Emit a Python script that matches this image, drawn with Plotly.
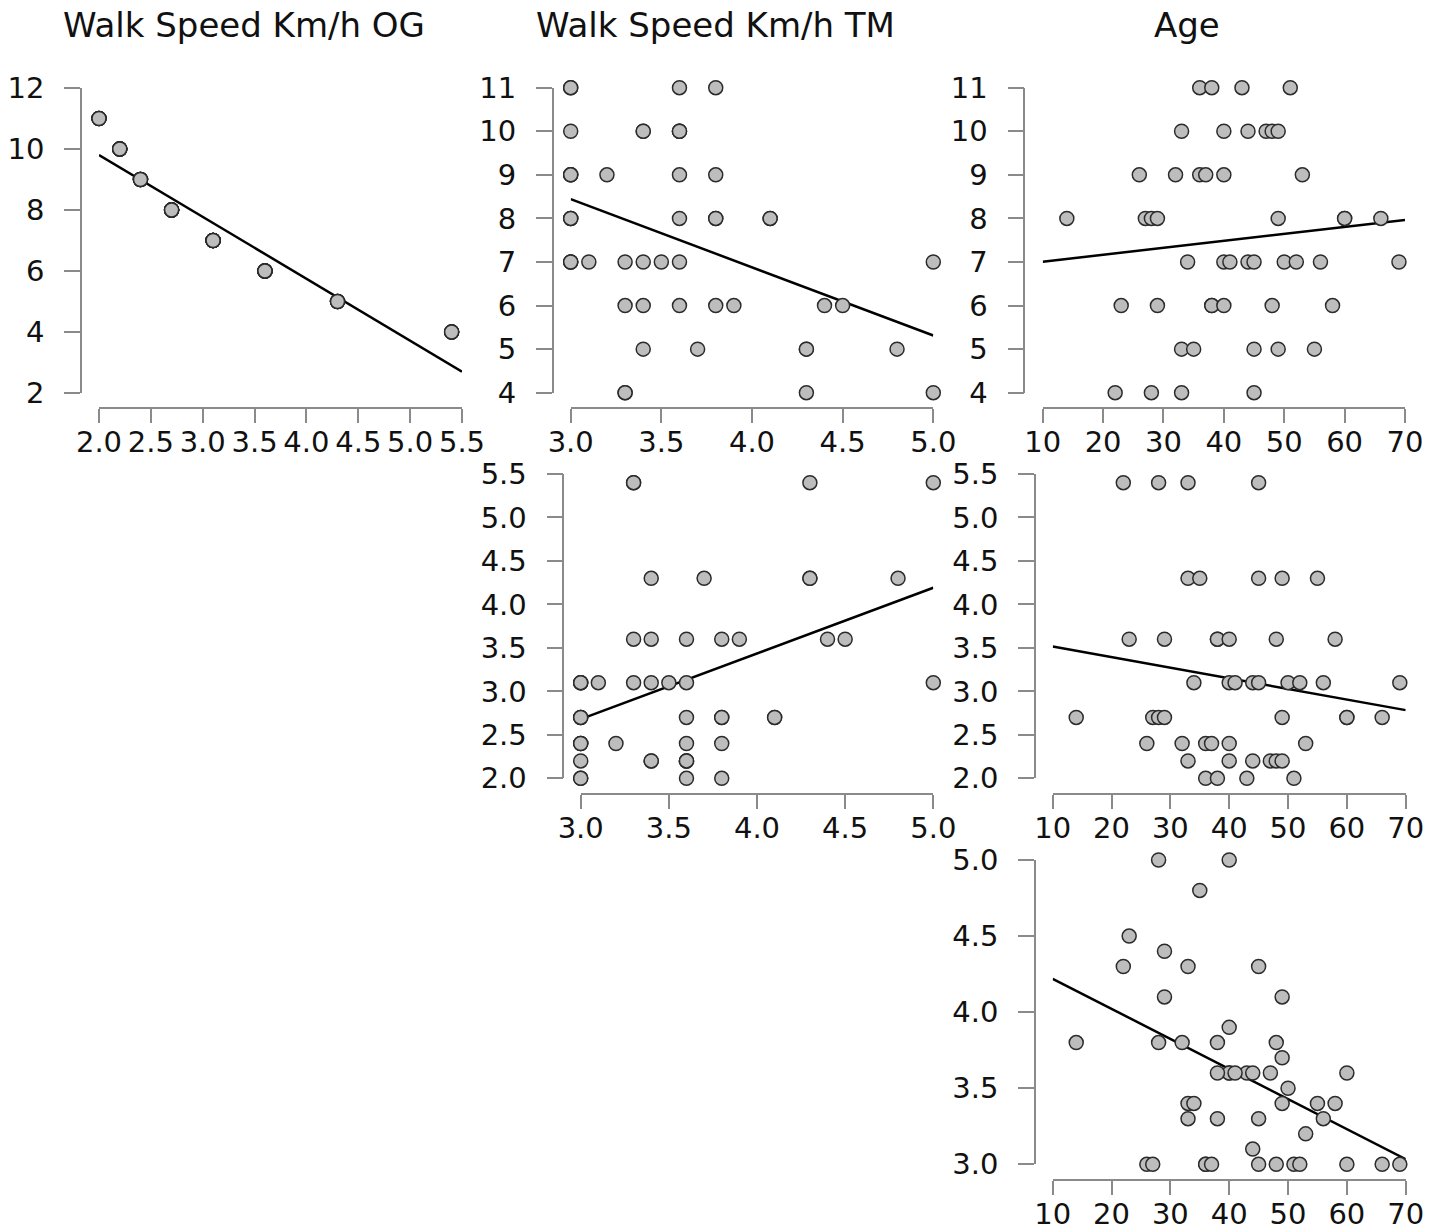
import numpy as np
import plotly.graph_objects as go

# ---------------- data (one entry per participant) ----------------
score = [11, 11, 11, 11,
         10, 10, 10, 10, 10, 10,
         9, 9, 9, 9, 9, 9,
         8, 8, 8, 8, 8, 8, 8, 8,
         7, 7, 7, 7, 7, 7, 7, 7, 7,
         6, 6, 6, 6, 6, 6, 6,
         5, 5, 5, 5, 5,
         4, 4, 4, 4]
og_speed = [2.0, 2.0, 2.0, 2.0,
            2.2, 2.2, 2.2, 2.2, 2.2, 2.2,
            2.4, 2.4, 2.4, 2.4, 2.4, 2.4,
            2.7, 2.7, 2.7, 2.7, 2.7, 2.7, 2.7, 2.7,
            3.1, 3.1, 3.1, 3.1, 3.1, 3.1, 3.1, 3.1, 3.1,
            3.6, 3.6, 3.6, 3.6, 3.6, 3.6, 3.6,
            4.3, 4.3, 4.3, 4.3, 4.3,
            5.4, 5.4, 5.4, 5.4]
tm_speed = [3.0, 3.8, 3.6, 3.0,
            3.4, 3.6, 3.6, 3.6, 3.0, 3.4,
            3.0, 3.8, 3.0, 3.0, 3.6, 3.2,
            3.8, 3.0, 3.8, 4.1, 4.1, 3.0, 3.6, 3.0,
            3.4, 5.0, 3.6, 3.1, 3.0, 3.5, 3.0, 3.3, 3.0,
            4.5, 4.4, 3.3, 3.6, 3.9, 3.8, 3.4,
            4.3, 4.8, 4.3, 3.7, 3.4,
            4.3, 5.0, 3.3, 3.3]
age = [36, 38, 43, 51,
       33, 40, 44, 47, 48, 49,
       26, 32, 36, 37, 40, 53,
       14, 27, 28, 29, 49, 60, 60, 66,
       34, 40, 41, 44, 45, 50, 52, 56, 69,
       23, 29, 38, 38, 40, 48, 58,
       33, 35, 45, 49, 55,
       22, 28, 33, 45]

# tick values
og_x_ticks = [2.0, 2.5, 3.0, 3.5, 4.0, 4.5, 5.0, 5.5]
score_y_ticks_first = [2, 4, 6, 8, 10, 12]
score_y_ticks = [4, 5, 6, 7, 8, 9, 10, 11]
tm_x_ticks = [3.0, 3.5, 4.0, 4.5, 5.0]
og_y_ticks = [2.0, 2.5, 3.0, 3.5, 4.0, 4.5, 5.0, 5.5]
age_x_ticks = [10, 20, 30, 40, 50, 60, 70]
tm_y_ticks = [3.0, 3.5, 4.0, 4.5, 5.0]

column_titles = ["Walk Speed Km/h OG", "Walk Speed Km/h TM", "Age"]

# ---------------- layout helpers ----------------
W, H = 1440, 1230
FONT = "DejaVu Sans"
AXIS_COLOR = "#8a8a8a"
TICK_SIZE = 29
TITLE_SIZE = 34


def fx(p):
    return p / W


def fy(p):
    return 1 - p / H


panels = [
    dict(x=og_speed, y=score, xt=og_x_ticks, yt=score_y_ticks_first, xf=".1f", yf="d",
         xpix=(99, 462), ypix=(393, 88), yline=81, xline=408),
    dict(x=tm_speed, y=score, xt=tm_x_ticks, yt=score_y_ticks, xf=".1f", yf="d",
         xpix=(570.7, 933.3), ypix=(392.7, 87.7), yline=552.7, xline=408),
    dict(x=age, y=score, xt=age_x_ticks, yt=score_y_ticks, xf="d", yf="d",
         xpix=(1042.7, 1405), ypix=(392.7, 87.7), yline=1024.3, xline=408),
    dict(x=tm_speed, y=og_speed, xt=tm_x_ticks, yt=og_y_ticks, xf=".1f", yf=".1f",
         xpix=(580.7, 933.3), ypix=(778.3, 474), yline=563.3, xline=794),
    dict(x=age, y=og_speed, xt=age_x_ticks, yt=og_y_ticks, xf="d", yf=".1f",
         xpix=(1052.7, 1405.7), ypix=(778.3, 474), yline=1035, xline=794),
    dict(x=age, y=tm_speed, xt=age_x_ticks, yt=tm_y_ticks, xf="d", yf=".1f",
         xpix=(1052.7, 1405.7), ypix=(1164.3, 860), yline=1035, xline=1180),
]

fig = go.Figure()
layout = dict(
    width=W, height=H,
    autosize=False,
    margin=dict(l=0, r=0, t=0, b=0, pad=0, autoexpand=False),
    paper_bgcolor="white", plot_bgcolor="white",
    showlegend=False,
    font=dict(family=FONT, size=TICK_SIZE, color="#111111"),
)

for i, p in enumerate(panels, start=1):
    xa = "x" if i == 1 else f"x{i}"
    ya = "y" if i == 1 else f"y{i}"
    xs = np.array(p["x"], dtype=float)
    ys = np.array(p["y"], dtype=float)
    xr = [min(p["xt"]), max(p["xt"])]
    yr = [min(p["yt"]), max(p["yt"])]

    # least-squares regression line drawn across the axis span
    slope, intercept = np.polyfit(xs, ys, 1)
    lx = np.array(xr)
    ly = intercept + slope * lx
    fig.add_trace(go.Scatter(x=lx, y=ly, mode="lines", xaxis=xa, yaxis=ya,
                             line=dict(color="black", width=2.5),
                             cliponaxis=False, hoverinfo="skip"))
    fig.add_trace(go.Scatter(x=xs, y=ys, mode="markers", xaxis=xa, yaxis=ya,
                             marker=dict(size=14, color="#bdbdbd",
                                         line=dict(color="#2b2b2b", width=1.5)),
                             cliponaxis=False))

    axis_common = dict(showgrid=False, zeroline=False, showline=True,
                       linecolor=AXIS_COLOR, linewidth=1.5, ticks="outside",
                       tickcolor=AXIS_COLOR, tickwidth=1.5, automargin=False,
                       tickfont=dict(family=FONT, size=TICK_SIZE, color="#111111"))
    layout["xaxis" + ("" if i == 1 else str(i))] = dict(
        axis_common, domain=[fx(p["xpix"][0]), fx(p["xpix"][1])], range=xr,
        tickvals=p["xt"], tickformat=p["xf"], anchor="free",
        position=fy(p["xline"]), ticklen=14, ticklabelstandoff=-6)
    layout["yaxis" + ("" if i == 1 else str(i))] = dict(
        axis_common, domain=[fy(p["ypix"][0]), fy(p["ypix"][1])], range=yr,
        tickvals=p["yt"], tickformat=p["yf"], anchor="free",
        position=fx(p["yline"]), ticklen=16, ticklabelstandoff=14)

title_centers = [244, 715, 1187]
annotations = []
for t, cx in zip(column_titles, title_centers):
    annotations.append(dict(text=t, x=fx(cx), y=fy(25), xref="paper", yref="paper",
                            xanchor="center", yanchor="middle", showarrow=False,
                            font=dict(family=FONT, size=TITLE_SIZE, color="#111111")))
layout["annotations"] = annotations

fig.update_layout(**layout)
fig.write_html("out.html",
               config={"displayModeBar": False},
               post_script="document.body.style.margin='0';document.body.style.overflow='hidden';")
